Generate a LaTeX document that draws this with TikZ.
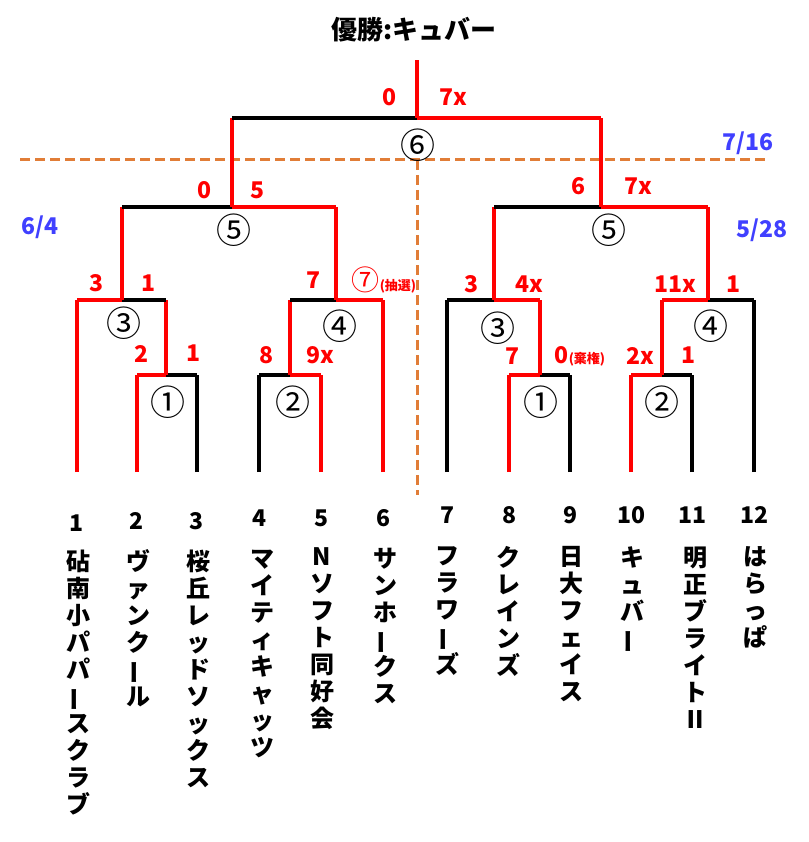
\documentclass[tikz,border=0pt]{standalone}
\usepackage{fontspec}
\setmainfont{Noto Sans CJK JP}
\newcommand{\VB}{\rotatebox[origin=c]{90}{ー}}
\definecolor{dashorange}{RGB}{225,125,55}
\begin{document}
\begin{tikzpicture}[x=1pt,y=-1pt,line width=3.5pt,
  rd/.style={draw=red},bk/.style={draw=black},
  sc/.style={text=red,font=\fontsize{23}{23}\selectfont\bfseries},
  cn/.style={font=\fontsize{35}{35}\selectfont},
  bl/.style={text=blue!75!white,font=\fontsize{23}{23}\selectfont\bfseries},
  num/.style={font=\fontsize{23}{23}\selectfont\bfseries},
  nm/.style={font=\fontsize{24}{27}\selectfont\bfseries,align=center,anchor=north,inner sep=0pt},
  dline/.style={draw=dashorange,line width=3pt,dash pattern=on 10pt off 5pt}]
\useasboundingbox (0,0) rectangle (808,842);
% dashed
\draw[dline] (20,160) -- (765,160);
\draw[dline] (417,160) -- (417,495);
% leaves
\foreach \x/\c/\t in {77/red/300,137/red/375,197/black/375,259/black/375,321/red/375,383/red/300,447/black/300,509/red/375,570/black/375,631/red/375,692/black/375,754/black/300}
  \draw[draw=\c] (\x,472) -- (\x,\t);
% left
\draw[rd] (137,375) -- (166,375); \draw[bk] (166,375) -- (197,375); \draw[rd] (166,375) -- (166,300);
\draw[rd] (77,300) -- (122,300); \draw[bk] (122,300) -- (166,300); \draw[rd] (122,300) -- (122,207);
\draw[bk] (259,375) -- (290,375); \draw[rd] (290,375) -- (321,375); \draw[rd] (290,375) -- (290,300);
\draw[bk] (290,300) -- (336,300); \draw[rd] (336,300) -- (383,300); \draw[rd] (336,300) -- (336,207);
\draw[bk] (122,207) -- (232,207); \draw[rd] (232,207) -- (336,207); \draw[rd] (232,207) -- (232,118);
% right
\draw[rd] (509,375) -- (540,375); \draw[bk] (540,375) -- (570,375); \draw[rd] (540,375) -- (540,300);
\draw[bk] (447,300) -- (494,300); \draw[rd] (494,300) -- (540,300); \draw[rd] (494,300) -- (494,207);
\draw[rd] (631,375) -- (662,375); \draw[bk] (662,375) -- (692,375); \draw[rd] (662,375) -- (662,300);
\draw[rd] (662,300) -- (708,300); \draw[bk] (708,300) -- (754,300); \draw[rd] (708,300) -- (708,207);
\draw[bk] (494,207) -- (601,207); \draw[rd] (601,207) -- (708,207); \draw[rd] (601,207) -- (601,118);
% final
\draw[bk] (232,118) -- (417,118); \draw[rd] (417,118) -- (601,118); \draw[rd] (417,118) -- (417,60);
% title
\node[font=\fontsize{26}{26}\selectfont\bfseries] (title) at (414,30) {優勝:キュバー};
% scores
\node[sc] at (389,97) {0}; \node[sc] at (453,97) {7x};
\node[sc] at (205,190) {0}; \node[sc] at (257,190) {5};
\node[sc] at (578,186) {6}; \node[sc] at (638,186) {7x};
\node[sc] at (97,283) {3}; \node[sc] at (149,283) {1};
\node[sc] at (313,280) {7}; \node[sc,anchor=west,inner sep=0pt] at (350,280) {{\fontsize{28}{28}\selectfont\mdseries ⑦}{\fontsize{13}{13}\selectfont(抽選)}};
\node[sc] at (471,284) {3}; \node[sc] at (529,284) {4x};
\node[sc] at (675,284) {11x}; \node[sc] at (733,284) {1};
\node[sc] at (142,354) {2}; \node[sc] at (194,353) {1};
\node[sc] at (266,355) {8}; \node[sc] at (320,355) {9x};
\node[sc] at (512,356) {7}; \node[sc,anchor=west,inner sep=0pt] at (553,356) {0{\fontsize{13}{13}\selectfont(棄権)}};
\node[sc] at (640,356) {2x}; \node[sc] at (688,355) {1};
% circled
\node[cn] at (418,145) {⑥};
\node[cn] at (234,230) {⑤}; \node[cn] at (609,230) {⑤};
\node[cn] at (124,323) {③}; \node[cn] at (340,326) {④};
\node[cn] at (498,328) {③}; \node[cn] at (711,326) {④};
\node[cn] at (168,402) {①}; \node[cn] at (293,402) {②};
\node[cn] at (541,402) {①}; \node[cn] at (662,402) {②};
% blue
\node[bl] at (748,143) {7/16}; \node[bl] at (40,227) {6/4}; \node[bl] at (762,230) {5/28};
% numbers
\foreach \x/\n/\y in {77/1/523,137/2/521,197/3/521,259/4/518,321/5/518,383/6/518,447/7/515,509/8/515,570/9/515,631/10/515,692/11/515,754/12/515}
  \node[num] at (\x,\y) {\n};
% names
\node[nm] at (78,548) {砧\\南\\小\\パ\\パ\\\VB\\ス\\ク\\ラ\\ブ};
\node[nm] at (138,548) {ヴ\\ァ\\ン\\ク\\\VB\\ル};
\node[nm] at (198,548) {桜\\丘\\レ\\ッ\\ド\\ソ\\ッ\\ク\\ス};
\node[nm] at (262,548) {マ\\イ\\テ\\ィ\\キ\\ャ\\ッ\\ツ};
\node[nm] at (322,546) {N\\ソ\\フ\\ト\\同\\好\\会};
\node[nm] at (385,546) {サ\\ン\\ホ\\\VB\\ク\\ス};
\node[nm] at (447,545) {フ\\ラ\\ワ\\\VB\\ズ};
\node[nm] at (508,545) {ク\\レ\\イ\\ン\\ズ};
\node[nm] at (571,545) {日\\大\\フ\\ェ\\イ\\ス};
\node[nm] at (632,545) {キ\\ュ\\バ\\\VB};
\node[nm] at (695,545) {明\\正\\ブ\\ラ\\イ\\ト\\Ⅱ};
\node[nm] at (755,545) {は\\ら\\っ\\ぱ};
\end{tikzpicture}
\end{document}
